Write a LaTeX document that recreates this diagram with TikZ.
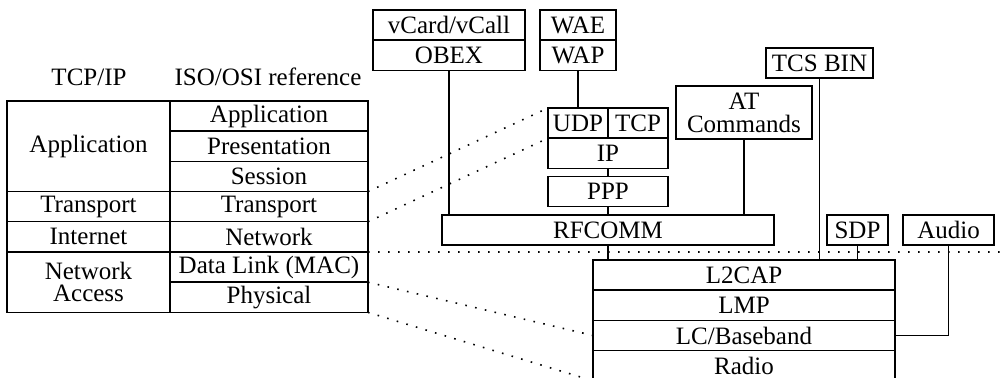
\documentclass[tikz,border=0pt]{standalone}
\usepackage{fontspec}
\setmainfont{Liberation Serif}
\usetikzlibrary{positioning}

\begin{document}
\begin{tikzpicture}[x=0.5pt, y=-0.5pt,
  layer/.style={draw, rectangle, line width=0.7pt, inner sep=0pt, outer sep=0pt, minimum height=15.1pt, font=\fontsize{12.5}{11}\selectfont},
  link/.style={line width=0.7pt},
  mapping/.style={line width=0.8pt, dash pattern=on 0.8pt off 4.2pt}]
  \clip (0,0) rectangle (1002,378);

  % model headings
  \node[anchor=base, font=\fontsize{12.5}{15}\selectfont] (tcphead) at (89,86) {TCP/IP};
  \node[anchor=base, font=\fontsize{12.5}{15}\selectfont] (osihead) at (268,86) {ISO/OSI reference};

  % ISO/OSI column
  \node[layer, minimum width=99pt, anchor=north west] (osiapp) at (170,101) {Application};
  \node[layer, minimum width=99pt, below=0pt of osiapp] (osipres) {Presentation};
  \node[layer, minimum width=99pt, below=0pt of osipres] (osisess) {Session};
  \node[layer, minimum width=99pt, below=0pt of osisess] (ositrans) {Transport};
  \node[layer, minimum width=99pt, below=0pt of ositrans] (osinet) {Network};
  \node[layer, minimum width=99pt, below=0pt of osinet] (osidl) {Data Link (MAC)};
  \node[layer, minimum width=99pt, below=0pt of osidl] (osiphy) {Physical};

  % TCP/IP column
  \node[layer, minimum width=81.5pt, minimum height=45.3pt, left=0pt of osipres] (tcpapp) {Application};
  \node[layer, minimum width=81.5pt, left=0pt of ositrans] (tcptrans) {Transport};
  \node[layer, minimum width=81.5pt, left=0pt of osinet] (tcpinet) {Internet};
  \node[layer, minimum width=81.5pt, minimum height=30.2pt, align=center, anchor=east] (tcpacc) at (osidl.south west) {Network\\Access};

  % Bluetooth upper layers
  \node[layer, minimum width=76pt, anchor=north west] (vcard) at (373,10) {vCard/vCall};
  \node[layer, minimum width=76pt, below=0pt of vcard] (obex) {OBEX};
  \node[layer, minimum width=38pt, anchor=north west] (wae) at (540,10) {WAE};
  \node[layer, minimum width=38pt, below=0pt of wae] (wap) {WAP};
  \node[layer, minimum width=30pt, anchor=north west] (udp) at (548,108) {UDP};
  \node[layer, minimum width=30pt, right=0pt of udp] (tcp) {TCP};
  \node[layer, minimum width=60pt, anchor=north west] (ip) at (udp.south west) {IP};
  \node[layer, minimum width=60pt, below=4pt of ip] (ppp) {PPP};
  \node[layer, minimum width=166pt, anchor=north west] (rfcomm) at (442,215) {RFCOMM};
  \node[layer, minimum width=68pt, minimum height=26.5pt, align=center, anchor=north west, font=\fontsize{12.5}{11.5}\selectfont] (atcmd) at (676,86) {AT\\Commands};
  \node[layer, minimum width=53.5pt, anchor=north west] (tcsbin) at (766,48) {TCS BIN};
  \node[layer, minimum width=30.5pt, anchor=north west] (sdp) at (827,215) {SDP};
  \node[layer, minimum width=45.5pt, anchor=north west] (audio) at (903,215) {Audio};

  % Bluetooth core stack
  \node[layer, minimum width=151pt, anchor=north west] (l2cap) at (593,260) {L2CAP};
  \node[layer, minimum width=151pt, below=0pt of l2cap] (lmp) {LMP};
  \node[layer, minimum width=151pt, below=0pt of lmp] (lcbb) {LC/Baseband};
  \node[layer, minimum width=151pt, below=0pt of lcbb] (radio) {Radio};

  % connections
  \draw[link] (obex.south) -- (obex.south |- rfcomm.north);
  \draw[link] (wap.south) -- (wap.south |- udp.north);
  \draw[link] (ip.south) -- (ppp.north);
  \draw[link] (ppp.south) -- (ppp.south |- rfcomm.north);
  \draw[link] (atcmd.south) -- (atcmd.south |- rfcomm.north);
  \draw[link] (rfcomm.south -| ppp) -- (l2cap.north -| ppp);
  \draw[link] (tcsbin.south) -- (tcsbin.south |- l2cap.north);
  \draw[link] (sdp.south) -- (sdp.south |- l2cap.north);
  \draw[link] (audio.south) |- (lcbb.east);

  % layer mapping
  \coordinate (rightend) at (1002,252);
  \draw[mapping] (osisess.south east) -- (udp.north west);
  \draw[mapping] (ositrans.south east) -- (ip.north west);
  \draw[mapping] (osinet.south east) -- (rightend);
  \draw[mapping] (osidl.south east) -- (lcbb.west);
  \draw[mapping] (osiphy.south east) -- (radio.south west);
\end{tikzpicture}
\end{document}
